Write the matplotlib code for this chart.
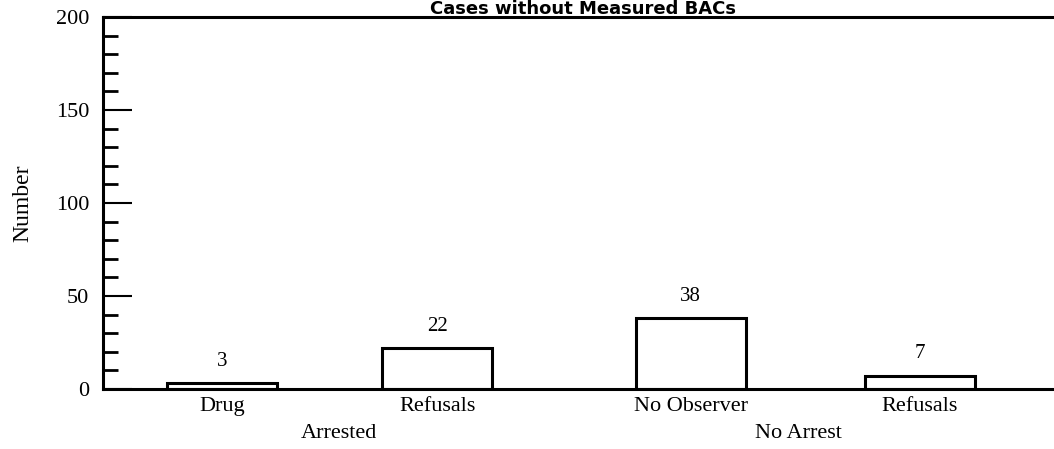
import matplotlib.pyplot as plt
from matplotlib.ticker import MultipleLocator

# data
categories = ['Drug', 'Refusals', 'No Observer', 'Refusals']
counts = [3, 22, 38, 7]
groups = ['Arrested', 'No Arrest']

plt.rcParams['font.family'] = ['Liberation Serif', 'DejaVu Serif']

fig = plt.figure(figsize=(10.54, 4.49), dpi=100)
ax = fig.add_axes([0.0977, 0.1336, 0.9023, 0.8284])

xpos = [0, 0.977, 2.13, 3.17]
ax.bar(xpos, counts, width=0.5, color='white', edgecolor='black', linewidth=2.2)

for x, c in zip(xpos, counts):
    ax.annotate(str(c), (x, c), xytext=(0, 9), textcoords='offset points',
                ha='center', va='bottom', fontsize=15)

ax.set_xlim(-0.541, 3.78)
ax.set_ylim(0, 200)

# spines
ax.spines['right'].set_visible(False)
for s in ['left', 'top', 'bottom']:
    ax.spines[s].set_linewidth(2.2)

ax.yaxis.set_major_locator(MultipleLocator(50))
ax.yaxis.set_minor_locator(MultipleLocator(10))
ax.tick_params(axis='y', which='major', direction='in', length=21, width=1.5, labelsize=16, pad=10)
ax.tick_params(axis='y', which='minor', direction='in', length=11, width=2)

ax.set_xticks(xpos)
ax.set_xticklabels(categories, fontsize=16)
ax.tick_params(axis='x', length=0, pad=6)

ax.set_ylabel('Number', fontsize=17, labelpad=16)

# group labels
ax.text(0.53, -0.095, groups[0], transform=ax.get_xaxis_transform(), ha='center', va='top', fontsize=16)
ax.text(2.62, -0.095, groups[1], transform=ax.get_xaxis_transform(), ha='center', va='top', fontsize=16)

fig.text(0.553, 0.999, 'Cases without Measured BACs', ha='center', va='top',
         fontsize=13, fontweight='bold', family=['DejaVu Sans'])

fig.savefig('out.png', dpi=100)
